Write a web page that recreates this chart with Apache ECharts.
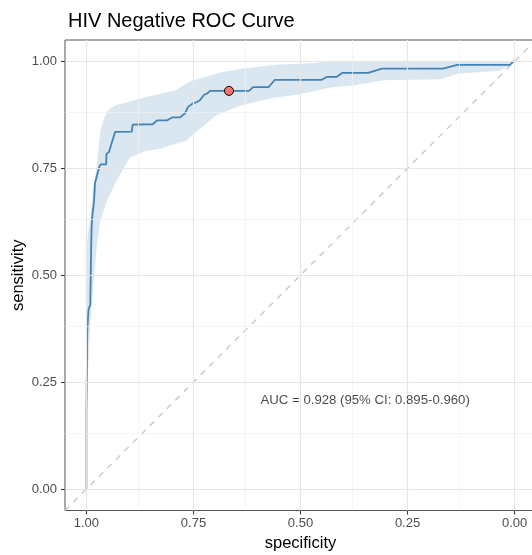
<!DOCTYPE html>
<html>
<head>
<meta charset="utf-8">
<script src="https://cdn.jsdelivr.net/npm/echarts@6/dist/echarts.min.js"></script>
<style>
html,body{margin:0;padding:0;background:#fff;}
#chart{width:532px;height:555px;}
</style>
</head>
<body>
<div id="chart"></div>
<script>
// ROC curve (specificity, sensitivity)
var rocSpec = [1.000,1.000,0.998,0.998,0.995,0.995,0.991,0.989,0.988,0.986,0.982,0.980,0.976,0.970,0.967,0.954,0.953,0.947,0.945,0.933,0.931,0.894,0.892,0.845,0.835,0.812,0.800,0.782,0.770,0.763,0.751,0.742,0.735,0.725,0.718,0.711,0.620,0.611,0.574,0.560,0.450,0.438,0.415,0.403,0.342,0.310,0.167,0.134,0.011,0.002,0.000];
var rocSens = [0.000,0.173,0.173,0.371,0.371,0.421,0.430,0.558,0.610,0.640,0.675,0.715,0.717,0.753,0.759,0.759,0.784,0.788,0.796,0.835,0.836,0.836,0.852,0.853,0.862,0.862,0.869,0.869,0.878,0.893,0.902,0.905,0.909,0.922,0.925,0.931,0.931,0.940,0.940,0.957,0.957,0.964,0.964,0.973,0.973,0.983,0.983,0.992,0.992,1.000,1.000];

// Confidence band of sensitivity
var ciUpperSpec = [1.000,0.996,0.990,0.985,0.976,0.971,0.967,0.959,0.950,0.933,0.863,0.793,0.758,0.688,0.630,0.555,0.489,0.431,0.007,0.000];
var ciUpperSens = [0.558,0.600,0.640,0.699,0.753,0.804,0.839,0.867,0.886,0.897,0.916,0.932,0.953,0.974,0.984,0.992,0.995,1.000,1.000,1.000];
var ciLowerSpec = [1.000,0.996,0.992,0.985,0.976,0.968,0.961,0.952,0.929,0.898,0.863,0.828,0.766,0.751,0.697,0.641,0.571,0.501,0.431,0.373,0.307,0.172,0.134,0.034,0.008,0.000];
var ciLowerSens = [0.161,0.278,0.371,0.465,0.565,0.624,0.647,0.675,0.722,0.776,0.790,0.796,0.815,0.829,0.874,0.896,0.913,0.923,0.939,0.944,0.956,0.958,0.971,0.978,0.992,1.000];

// Best threshold point
var bestSpec = [0.667];
var bestSens = [0.931];

var tickValues = [0, 0.25, 0.5, 0.75, 1];
var minorValues = [0.125, 0.375, 0.625, 0.875];
var aucText = 'AUC = 0.928 (95% CI: 0.895-0.960)';
var aucPos = [0.349, 0.208];

var FONT = '"Liberation Sans", Arial, Helvetica, sans-serif';

var rocData = rocSpec.map(function (s, i) { return [s, rocSens[i]]; });
var upperPts = ciUpperSpec.map(function (s, i) { return [s, ciUpperSens[i]]; });
var lowerPts = ciLowerSpec.map(function (s, i) { return [s, ciLowerSens[i]]; });
var bandPts = upperPts.concat(lowerPts.slice().reverse());

function gridLines(vals, width, color) {
  var d = [];
  vals.forEach(function (v) {
    d.push({ xAxis: v, lineStyle: { width: width, color: color, type: 'solid' } });
    d.push({ yAxis: v, lineStyle: { width: width, color: color, type: 'solid' } });
  });
  return d;
}

var chart = echarts.init(document.getElementById('chart'), null, { renderer: 'canvas' });
chart.setOption({
  animation: false,
  backgroundColor: '#ffffff',
  title: {
    text: 'HIV Negative ROC Curve',
    left: 63, top: 6,
    textStyle: { fontFamily: FONT, fontSize: 20, fontWeight: 'normal', color: '#000' }
  },
  grid: {
    left: 65, top: 40, right: -4, bottom: 44.5,
    outerBoundsMode: 'none', containLabel: false,
    show: true, borderColor: '#555', borderWidth: 1, backgroundColor: '#fff'
  },
  xAxis: {
    type: 'value', inverse: true, min: -0.05, max: 1.05,
    name: 'specificity', nameLocation: 'middle', nameGap: 24, nameMoveOverlap: false,
    nameTextStyle: { fontFamily: FONT, fontSize: 16.5, color: '#000' },
    axisLine: { show: false, onZero: false },
    axisTick: { show: true, customValues: tickValues, length: 4, lineStyle: { color: '#333', width: 1 } },
    axisLabel: { customValues: tickValues, margin: 6, fontFamily: FONT, fontSize: 13, color: '#4d4d4d',
      formatter: function (v) { return v.toFixed(2); } },
    splitLine: { show: false }
  },
  yAxis: {
    type: 'value', min: -0.05, max: 1.05,
    name: 'sensitivity', nameLocation: 'middle', nameGap: 38, nameMoveOverlap: false,
    nameTextStyle: { fontFamily: FONT, fontSize: 16.5, color: '#000' },
    axisLine: { show: false, onZero: false },
    axisTick: { show: true, customValues: tickValues, length: 4, lineStyle: { color: '#333', width: 1 } },
    axisLabel: { customValues: tickValues, margin: 8, fontFamily: FONT, fontSize: 13, color: '#4d4d4d',
      formatter: function (v) { return v.toFixed(2); } },
    splitLine: { show: false }
  },
  series: [
    {
      type: 'line', data: [], silent: true, z: 1,
      markLine: {
        silent: true, symbol: 'none', label: { show: false }, animation: false,
        data: gridLines(minorValues, 0.7, '#f0f0f0').concat(gridLines(tickValues, 1.2, '#e6e6e6'))
      }
    },
    {
      type: 'custom', z: 2, silent: true, clip: true,
      data: [0],
      renderItem: function (params, api) {
        var pts = bandPts.map(function (p) { return api.coord(p); });
        return { type: 'polygon', shape: { points: pts }, style: { fill: 'rgba(70,130,180,0.2)', stroke: null } };
      }
    },
    {
      type: 'line', z: 3, silent: true, symbol: 'none',
      data: [[1.05, -0.05], [-0.05, 1.05]],
      lineStyle: { color: '#c4c4c4', width: 1.3, type: [6, 6] }
    },
    {
      type: 'line', z: 4, silent: true, symbol: 'none',
      data: rocData,
      lineStyle: { color: '#4682b4', width: 1.8 }
    },
    {
      type: 'scatter', z: 5, silent: true,
      data: bestSpec.map(function (s, i) { return [s, bestSens[i]]; }),
      symbolSize: 9,
      itemStyle: { color: '#f8766d', borderColor: '#000', borderWidth: 1, opacity: 1 }
    },
    {
      type: 'scatter', z: 6, silent: true, symbolSize: 0,
      data: [aucPos],
      label: { show: true, position: 'inside', formatter: aucText,
        fontFamily: FONT, fontSize: 13.2, color: '#1a1a1a' }
    }
  ]
});
</script>
</body>
</html>
